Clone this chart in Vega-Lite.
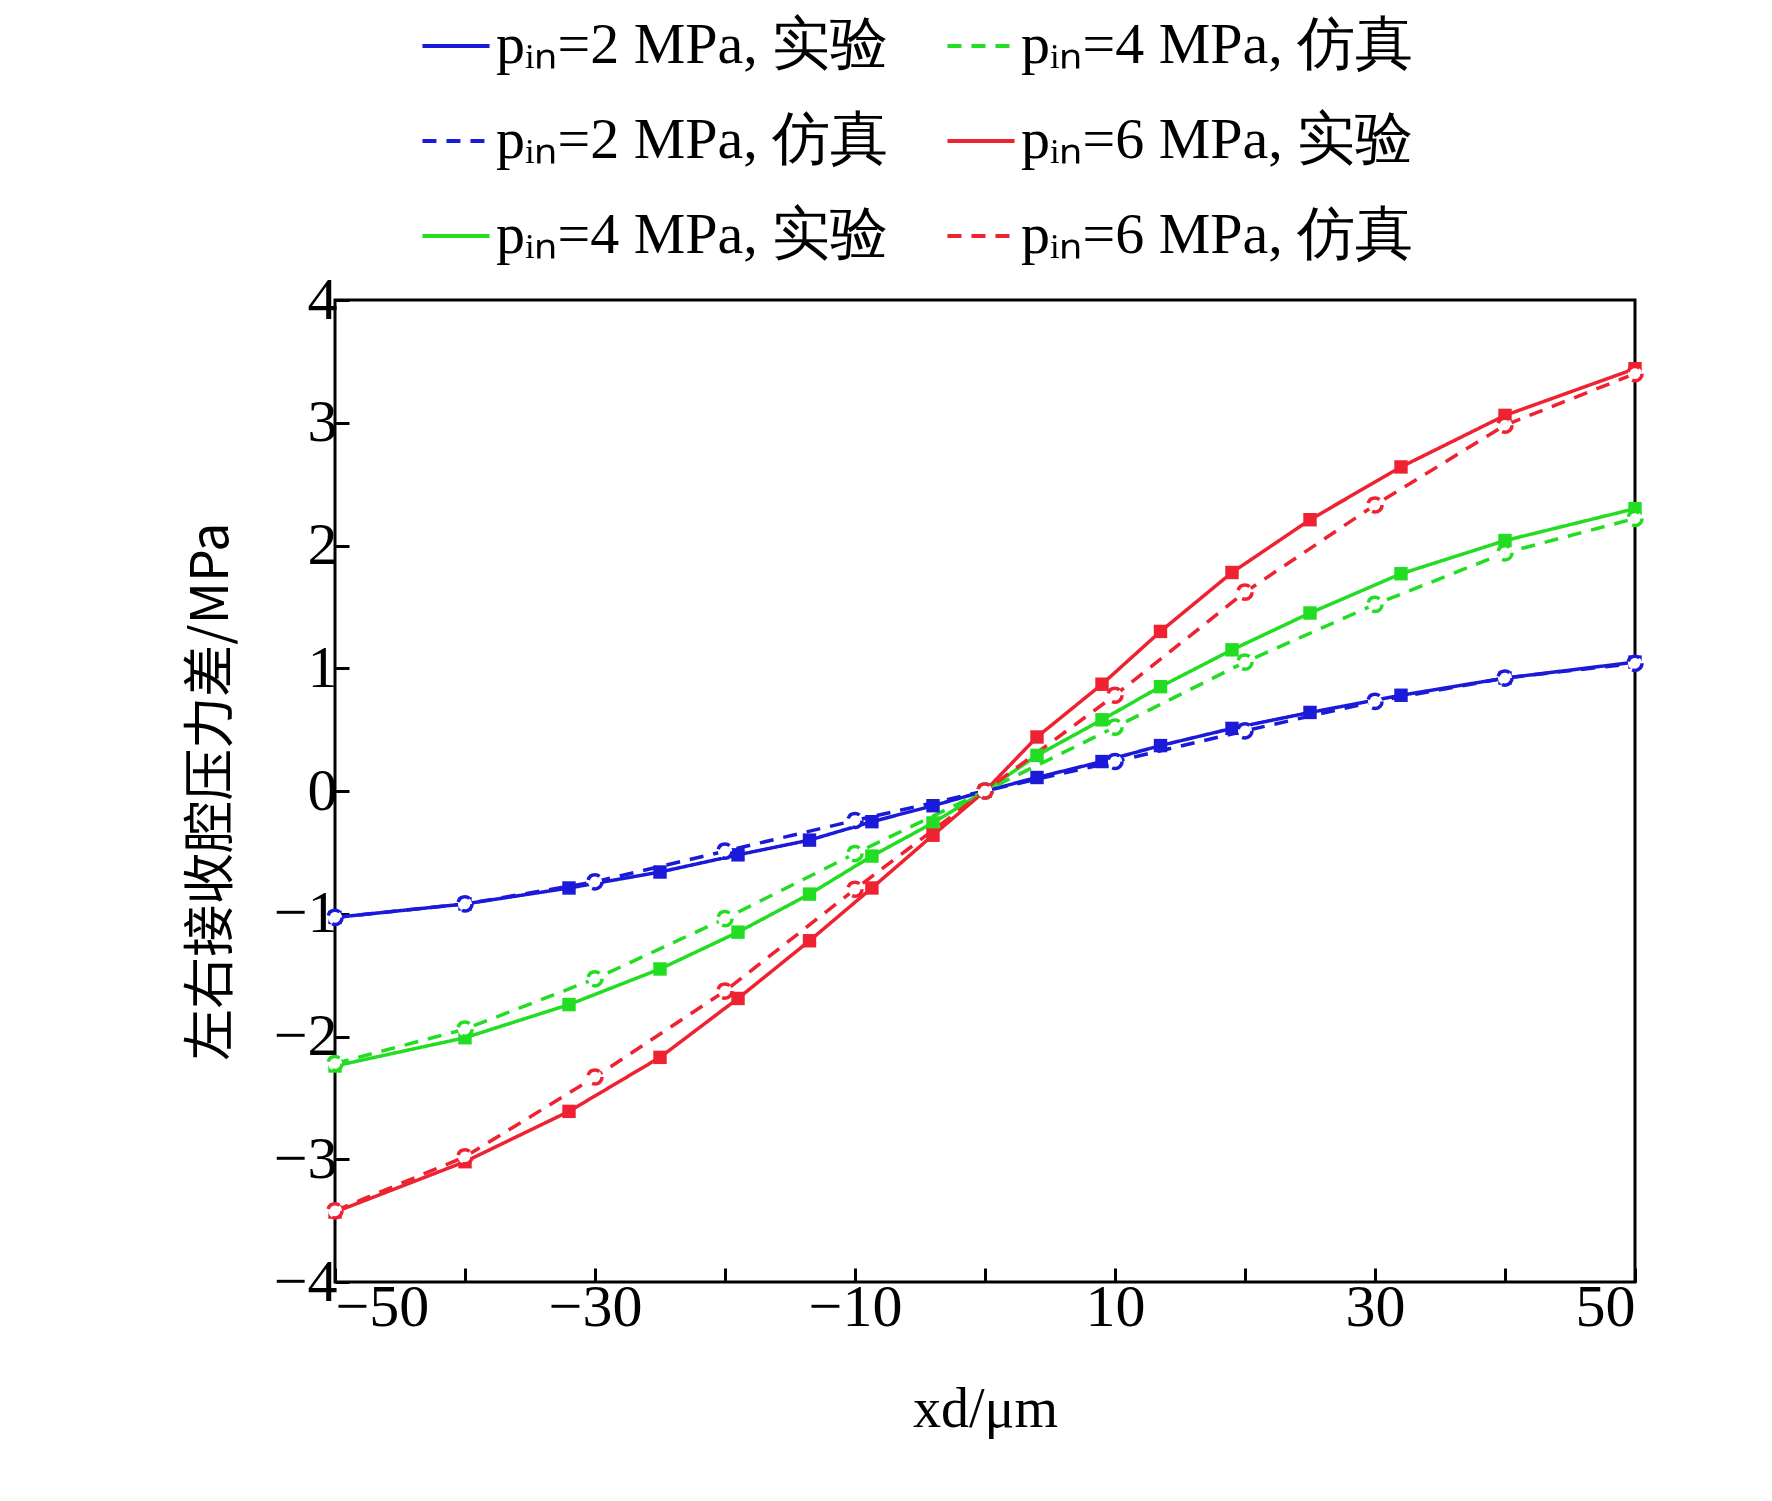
{
  "$schema": "https://vega.github.io/schema/vega-lite/v6.json",
  "width": 1300,
  "height": 982,
  "padding": {"left": 185, "top": 10, "right": 40, "bottom": 10},
  "background": "white",
  "config": {
    "font": "Liberation Serif",
    "view": {"stroke": "black", "strokeWidth": 3},
    "axis": {"labelFont": "Liberation Serif", "titleFont": "Liberation Serif", "labelFontSize": 60, "titleFontSize": 56, "titleFontWeight": "normal", "labelColor": "black", "titleColor": "black", "grid": false, "domain": false, "tickColor": "black", "tickWidth": 3, "tickSize": -14}
  },
  "data": {"values": [
    {"s": "pᵢₙ=2 MPa, 实验", "x": -50, "y": -1.03}, {"s": "pᵢₙ=2 MPa, 实验", "x": -40, "y": -0.92}, {"s": "pᵢₙ=2 MPa, 实验", "x": -32, "y": -0.79}, {"s": "pᵢₙ=2 MPa, 实验", "x": -25, "y": -0.66}, {"s": "pᵢₙ=2 MPa, 实验", "x": -19, "y": -0.52}, {"s": "pᵢₙ=2 MPa, 实验", "x": -13.5, "y": -0.40}, {"s": "pᵢₙ=2 MPa, 实验", "x": -8.7, "y": -0.25}, {"s": "pᵢₙ=2 MPa, 实验", "x": -4, "y": -0.12}, {"s": "pᵢₙ=2 MPa, 实验", "x": 0, "y": 0}, {"s": "pᵢₙ=2 MPa, 实验", "x": 4, "y": 0.11}, {"s": "pᵢₙ=2 MPa, 实验", "x": 9, "y": 0.24}, {"s": "pᵢₙ=2 MPa, 实验", "x": 13.5, "y": 0.37}, {"s": "pᵢₙ=2 MPa, 实验", "x": 19, "y": 0.51}, {"s": "pᵢₙ=2 MPa, 实验", "x": 25, "y": 0.64}, {"s": "pᵢₙ=2 MPa, 实验", "x": 32, "y": 0.78}, {"s": "pᵢₙ=2 MPa, 实验", "x": 40, "y": 0.92}, {"s": "pᵢₙ=2 MPa, 实验", "x": 50, "y": 1.05},
    {"s": "pᵢₙ=4 MPa, 实验", "x": -50, "y": -2.24}, {"s": "pᵢₙ=4 MPa, 实验", "x": -40, "y": -2.01}, {"s": "pᵢₙ=4 MPa, 实验", "x": -32, "y": -1.74}, {"s": "pᵢₙ=4 MPa, 实验", "x": -25, "y": -1.45}, {"s": "pᵢₙ=4 MPa, 实验", "x": -19, "y": -1.15}, {"s": "pᵢₙ=4 MPa, 实验", "x": -13.5, "y": -0.84}, {"s": "pᵢₙ=4 MPa, 实验", "x": -8.7, "y": -0.53}, {"s": "pᵢₙ=4 MPa, 实验", "x": -4, "y": -0.26}, {"s": "pᵢₙ=4 MPa, 实验", "x": 0, "y": 0}, {"s": "pᵢₙ=4 MPa, 实验", "x": 4, "y": 0.29}, {"s": "pᵢₙ=4 MPa, 实验", "x": 9, "y": 0.58}, {"s": "pᵢₙ=4 MPa, 实验", "x": 13.5, "y": 0.85}, {"s": "pᵢₙ=4 MPa, 实验", "x": 19, "y": 1.15}, {"s": "pᵢₙ=4 MPa, 实验", "x": 25, "y": 1.45}, {"s": "pᵢₙ=4 MPa, 实验", "x": 32, "y": 1.77}, {"s": "pᵢₙ=4 MPa, 实验", "x": 40, "y": 2.04}, {"s": "pᵢₙ=4 MPa, 实验", "x": 50, "y": 2.30},
    {"s": "pᵢₙ=6 MPa, 实验", "x": -50, "y": -3.43}, {"s": "pᵢₙ=6 MPa, 实验", "x": -40, "y": -3.02}, {"s": "pᵢₙ=6 MPa, 实验", "x": -32, "y": -2.61}, {"s": "pᵢₙ=6 MPa, 实验", "x": -25, "y": -2.17}, {"s": "pᵢₙ=6 MPa, 实验", "x": -19, "y": -1.69}, {"s": "pᵢₙ=6 MPa, 实验", "x": -13.5, "y": -1.22}, {"s": "pᵢₙ=6 MPa, 实验", "x": -8.7, "y": -0.79}, {"s": "pᵢₙ=6 MPa, 实验", "x": -4, "y": -0.36}, {"s": "pᵢₙ=6 MPa, 实验", "x": 0, "y": 0}, {"s": "pᵢₙ=6 MPa, 实验", "x": 4, "y": 0.44}, {"s": "pᵢₙ=6 MPa, 实验", "x": 9, "y": 0.87}, {"s": "pᵢₙ=6 MPa, 实验", "x": 13.5, "y": 1.30}, {"s": "pᵢₙ=6 MPa, 实验", "x": 19, "y": 1.78}, {"s": "pᵢₙ=6 MPa, 实验", "x": 25, "y": 2.21}, {"s": "pᵢₙ=6 MPa, 实验", "x": 32, "y": 2.64}, {"s": "pᵢₙ=6 MPa, 实验", "x": 40, "y": 3.06}, {"s": "pᵢₙ=6 MPa, 实验", "x": 50, "y": 3.44},
    {"s": "pᵢₙ=2 MPa, 仿真", "x": -50, "y": -1.03}, {"s": "pᵢₙ=2 MPa, 仿真", "x": -40, "y": -0.92}, {"s": "pᵢₙ=2 MPa, 仿真", "x": -30, "y": -0.74}, {"s": "pᵢₙ=2 MPa, 仿真", "x": -20, "y": -0.49}, {"s": "pᵢₙ=2 MPa, 仿真", "x": -10, "y": -0.24}, {"s": "pᵢₙ=2 MPa, 仿真", "x": 0, "y": 0}, {"s": "pᵢₙ=2 MPa, 仿真", "x": 10, "y": 0.24}, {"s": "pᵢₙ=2 MPa, 仿真", "x": 20, "y": 0.49}, {"s": "pᵢₙ=2 MPa, 仿真", "x": 30, "y": 0.73}, {"s": "pᵢₙ=2 MPa, 仿真", "x": 40, "y": 0.92}, {"s": "pᵢₙ=2 MPa, 仿真", "x": 50, "y": 1.04},
    {"s": "pᵢₙ=4 MPa, 仿真", "x": -50, "y": -2.22}, {"s": "pᵢₙ=4 MPa, 仿真", "x": -40, "y": -1.94}, {"s": "pᵢₙ=4 MPa, 仿真", "x": -30, "y": -1.53}, {"s": "pᵢₙ=4 MPa, 仿真", "x": -20, "y": -1.04}, {"s": "pᵢₙ=4 MPa, 仿真", "x": -10, "y": -0.51}, {"s": "pᵢₙ=4 MPa, 仿真", "x": 0, "y": 0}, {"s": "pᵢₙ=4 MPa, 仿真", "x": 10, "y": 0.52}, {"s": "pᵢₙ=4 MPa, 仿真", "x": 20, "y": 1.05}, {"s": "pᵢₙ=4 MPa, 仿真", "x": 30, "y": 1.52}, {"s": "pᵢₙ=4 MPa, 仿真", "x": 40, "y": 1.94}, {"s": "pᵢₙ=4 MPa, 仿真", "x": 50, "y": 2.22},
    {"s": "pᵢₙ=6 MPa, 仿真", "x": -50, "y": -3.42}, {"s": "pᵢₙ=6 MPa, 仿真", "x": -40, "y": -2.98}, {"s": "pᵢₙ=6 MPa, 仿真", "x": -30, "y": -2.33}, {"s": "pᵢₙ=6 MPa, 仿真", "x": -20, "y": -1.63}, {"s": "pᵢₙ=6 MPa, 仿真", "x": -10, "y": -0.80}, {"s": "pᵢₙ=6 MPa, 仿真", "x": 0, "y": 0}, {"s": "pᵢₙ=6 MPa, 仿真", "x": 10, "y": 0.78}, {"s": "pᵢₙ=6 MPa, 仿真", "x": 20, "y": 1.62}, {"s": "pᵢₙ=6 MPa, 仿真", "x": 30, "y": 2.33}, {"s": "pᵢₙ=6 MPa, 仿真", "x": 40, "y": 2.98}, {"s": "pᵢₙ=6 MPa, 仿真", "x": 50, "y": 3.40}
  ]},
  "encoding": {
    "x": {"field": "x", "type": "quantitative", "scale": {"domain": [-50, 50], "nice": false}, "axis": {"values": [-50, -40, -30, -20, -10, 0, 10, 20, 30, 40, 50], "labelExpr": "replace(datum.label, '-', '−')", "labelPadding": 10, "titlePadding": 45, "title": "xd/μm"}},
    "y": {"field": "y", "type": "quantitative", "scale": {"domain": [-4, 4], "nice": false}, "axis": {"values": [-4, -3, -2, -1, 0, 1, 2, 3, 4], "labelExpr": "replace(datum.label, '-', '−')", "labelPadding": 12, "titlePadding": 35, "title": "左右接收腔压力差/MPa", "titleFont": "Noto Sans CJK SC", "titleFontSize": 52}},
    "color": {"field": "s", "type": "nominal", "scale": {
      "domain": ["pᵢₙ=2 MPa, 实验", "pᵢₙ=2 MPa, 仿真", "pᵢₙ=4 MPa, 实验", "pᵢₙ=4 MPa, 仿真", "pᵢₙ=6 MPa, 实验", "pᵢₙ=6 MPa, 仿真"],
      "range": ["#1a1ad8", "#1a1ad8", "#22dd22", "#22dd22", "#ee2230", "#ee2230"]},
      "legend": {"orient": "none", "legendX": 85, "legendY": -290, "columns": 2, "title": null, "labelFont": "Liberation Serif", "labelFontSize": 58, "labelColor": "black", "symbolSize": 4500, "symbolStrokeWidth": 4, "columnPadding": 50, "rowPadding": 30, "labelLimit": 700, "symbolType": "stroke"}},
    "strokeDash": {"field": "s", "type": "nominal", "scale": {
      "domain": ["pᵢₙ=2 MPa, 实验", "pᵢₙ=2 MPa, 仿真", "pᵢₙ=4 MPa, 实验", "pᵢₙ=4 MPa, 仿真", "pᵢₙ=6 MPa, 实验", "pᵢₙ=6 MPa, 仿真"],
      "range": [[1, 0], [14, 10], [1, 0], [14, 10], [1, 0], [14, 10]]},
      "legend": {"orient": "none", "legendX": 85, "legendY": -290, "columns": 2, "title": null, "labelFont": "Liberation Serif", "labelFontSize": 58, "labelColor": "black", "symbolSize": 4500, "symbolStrokeWidth": 4, "columnPadding": 50, "rowPadding": 30, "labelLimit": 700, "symbolType": "stroke"}}
  },
  "layer": [
    {"mark": {"type": "line", "strokeWidth": 3.5}},
    {"transform": [{"filter": "indexof(datum.s, '实验') >= 0"}], "mark": {"type": "square", "size": 180, "filled": true, "opacity": 1}},
    {"transform": [{"filter": "indexof(datum.s, '仿真') >= 0"}], "mark": {"type": "circle", "size": 200, "filled": false, "fill": "white", "strokeWidth": 3.5, "opacity": 1}}
  ]
}
